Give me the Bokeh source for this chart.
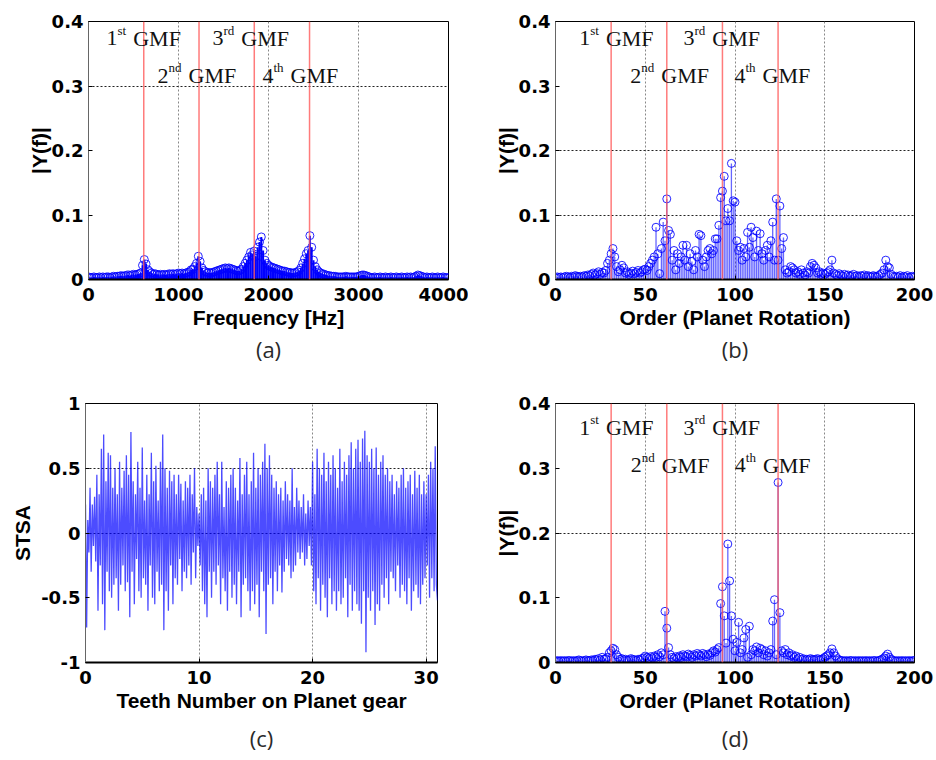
import numpy as np
from bokeh.plotting import figure
from bokeh.layouts import column, row
from bokeh.models import Label, Span, FixedTicker, Title
from bokeh.embed import file_html
from bokeh.resources import INLINE

# ---------------- data ----------------
# (a) amplitude spectrum, 20 Hz bins from 0 to 4000 Hz
freq_hz = np.arange(0, 4001, 20)
spec_a = [
    0.004, 0.003, 0.003, 0.004, 0.003, 0.003, 0.004, 0.003, 0.004, 0.003, 0.004,
    0.004, 0.003, 0.004, 0.005, 0.004, 0.005, 0.005, 0.006, 0.005, 0.006,
    0.006, 0.007, 0.006, 0.007, 0.008, 0.007, 0.008, 0.009, 0.010,
    0.022, 0.031, 0.024, 0.015, 0.012,
    0.010, 0.008, 0.009, 0.008, 0.007, 0.008, 0.007, 0.008, 0.007, 0.008, 0.009,
    0.008, 0.009, 0.008, 0.009, 0.010,
    0.009, 0.010, 0.009, 0.010, 0.011, 0.012, 0.015, 0.016, 0.020, 0.025,
    0.036, 0.028, 0.018, 0.014, 0.012,
    0.010, 0.011, 0.010, 0.011, 0.012, 0.013, 0.014, 0.015, 0.016,
    0.017, 0.018, 0.017, 0.018, 0.017, 0.016, 0.015, 0.014, 0.013, 0.014, 0.016,
    0.020, 0.025, 0.030, 0.035, 0.042, 0.038, 0.044, 0.036,
    0.050, 0.058, 0.066, 0.045, 0.030,
    0.025, 0.022, 0.020, 0.019, 0.018, 0.017, 0.016, 0.015, 0.014, 0.013, 0.013, 0.012,
    0.011, 0.011, 0.010, 0.010, 0.011, 0.012, 0.014, 0.018, 0.025, 0.032,
    0.040, 0.045, 0.068, 0.050, 0.030, 0.020,
    0.015, 0.012, 0.010, 0.009, 0.008, 0.007, 0.006, 0.006, 0.005,
    0.005, 0.005, 0.004, 0.004, 0.004, 0.004, 0.004, 0.005, 0.004, 0.004, 0.004,
    0.004, 0.004, 0.004, 0.005,
    0.006, 0.007, 0.007, 0.006, 0.005,
    0.004, 0.003, 0.003, 0.004, 0.003, 0.003, 0.004, 0.003, 0.003, 0.004, 0.003,
    0.003, 0.004, 0.003, 0.003, 0.004, 0.003, 0.003, 0.004, 0.003, 0.003, 0.004,
    0.003, 0.004, 0.003, 0.004, 0.005,
    0.007, 0.006, 0.005, 0.004,
    0.003, 0.004, 0.003, 0.003, 0.004, 0.003, 0.003, 0.004, 0.003, 0.003, 0.004,
    0.003, 0.003, 0.003,
]

# (b) and (d) order spectra, orders 0..200
orders = np.arange(0, 201)
spec_b = [
    0.003, 0.004, 0.003, 0.004, 0.003, 0.004, 0.005, 0.004, 0.003, 0.005,
    0.004, 0.006, 0.005, 0.004, 0.005, 0.004, 0.006, 0.005, 0.007, 0.006,
    0.008, 0.010, 0.007, 0.009, 0.012, 0.008, 0.011, 0.010, 0.014, 0.025,
    0.030, 0.040, 0.048, 0.035, 0.020, 0.012, 0.015, 0.022, 0.018, 0.010,
    0.012, 0.008, 0.010, 0.013, 0.009, 0.011, 0.014, 0.010, 0.012, 0.015,
    0.016, 0.014, 0.020, 0.025, 0.030, 0.035, 0.081, 0.040, 0.009, 0.048,
    0.089, 0.060, 0.125, 0.076, 0.070, 0.030, 0.045, 0.015, 0.040, 0.025,
    0.035, 0.053, 0.030, 0.053, 0.020, 0.040, 0.028, 0.015, 0.045, 0.035,
    0.070, 0.068, 0.030, 0.020, 0.035, 0.045, 0.048, 0.040, 0.045, 0.063,
    0.063, 0.084, 0.127, 0.137, 0.160, 0.091, 0.110, 0.091, 0.180, 0.122,
    0.120, 0.060, 0.045, 0.050, 0.030, 0.048, 0.035, 0.073, 0.050, 0.081,
    0.065, 0.035, 0.075, 0.045, 0.071, 0.040, 0.030, 0.045, 0.053, 0.035,
    0.060, 0.089, 0.030, 0.125, 0.030, 0.114, 0.048, 0.065, 0.015, 0.010,
    0.012, 0.020, 0.018, 0.015, 0.010, 0.012, 0.008, 0.015, 0.010, 0.007,
    0.012, 0.010, 0.020, 0.025, 0.022, 0.018, 0.010, 0.012, 0.008, 0.010,
    0.008, 0.010, 0.012, 0.015, 0.030, 0.010, 0.008, 0.006, 0.009, 0.007,
    0.005, 0.008, 0.006, 0.007, 0.005, 0.006, 0.008, 0.005, 0.006, 0.004,
    0.006, 0.005, 0.007, 0.004, 0.006, 0.005, 0.004, 0.006, 0.005, 0.004,
    0.006, 0.008, 0.010, 0.015, 0.030, 0.020, 0.018, 0.008, 0.005, 0.004,
    0.005, 0.004, 0.006, 0.003, 0.005, 0.004, 0.006, 0.003, 0.004, 0.005,
    0.004,
]
spec_d = [
    0.002, 0.003, 0.002, 0.003, 0.002, 0.003, 0.002, 0.003, 0.003, 0.002,
    0.003, 0.002, 0.003, 0.004, 0.003, 0.002, 0.003, 0.004, 0.003, 0.003,
    0.004, 0.003, 0.005, 0.004, 0.006, 0.004, 0.008, 0.005, 0.006, 0.008,
    0.015, 0.018, 0.022, 0.020, 0.012, 0.008, 0.005, 0.006, 0.004, 0.005,
    0.003, 0.004, 0.006, 0.005, 0.004, 0.003, 0.005, 0.004, 0.006, 0.007,
    0.010, 0.008, 0.006, 0.009, 0.007, 0.010, 0.008, 0.012, 0.009, 0.015,
    0.012, 0.079, 0.053, 0.023, 0.012, 0.008, 0.006, 0.009, 0.007, 0.010,
    0.008, 0.012, 0.010, 0.009, 0.013, 0.011, 0.008, 0.012, 0.010, 0.014,
    0.012, 0.010, 0.014, 0.012, 0.009, 0.013, 0.011, 0.015, 0.018, 0.016,
    0.020, 0.023, 0.091, 0.117, 0.072, 0.030, 0.183, 0.126, 0.072, 0.036,
    0.018, 0.031, 0.062, 0.015, 0.020, 0.038, 0.051, 0.008, 0.056, 0.012,
    0.020, 0.018, 0.024, 0.015, 0.022, 0.020, 0.012, 0.018, 0.010, 0.015,
    0.020, 0.064, 0.097, 0.012, 0.278, 0.077, 0.018, 0.015, 0.020, 0.012,
    0.015, 0.010, 0.012, 0.008, 0.010, 0.006, 0.008, 0.005, 0.006, 0.004,
    0.005, 0.004, 0.006, 0.005, 0.004, 0.005, 0.006, 0.004, 0.005, 0.006,
    0.008, 0.010, 0.012, 0.015, 0.021, 0.015, 0.010, 0.006, 0.004, 0.003,
    0.003, 0.002, 0.003, 0.002, 0.003, 0.003, 0.002, 0.003, 0.002, 0.003,
    0.002, 0.003, 0.002, 0.003, 0.002, 0.003, 0.002, 0.003, 0.003, 0.002,
    0.003, 0.004, 0.005, 0.007, 0.010, 0.013, 0.008, 0.005, 0.003, 0.003,
    0.002, 0.003, 0.002, 0.003, 0.002, 0.003, 0.002, 0.003, 0.002, 0.003,
    0.003,
]

# (c) synchronous time-synchronous average over one planet revolution
teeth = np.round(np.arange(0, 31.001, 0.1), 2)
stsa = [
    0.22, -0.73, 0.10, -0.15, 0.35, -0.30, 0.22, -0.10, 0.28, -0.22,
    0.45, -0.60, 0.30, -0.25, 0.65, -0.55, 0.76, -0.75, 0.40, -0.30,
    0.62, -0.45, 0.60, -0.50, 0.35, -0.40, 0.50, -0.35, 0.30, -0.60,
    0.55, -0.40, 0.35, -0.25, 0.48, -0.45, 0.60, -0.38, 0.45, -0.65,
    0.78, -0.30, 0.40, -0.55, 0.30, -0.20, 0.55, -0.45, 0.35, -0.50,
    0.66, -0.35, 0.25, -0.40, 0.45, -0.60, 0.30, -0.25, 0.62, -0.50,
    0.40, -0.55, 0.52, -0.30, 0.25, -0.45, 0.55, -0.40, 0.76, -0.75,
    0.50, -0.45, 0.35, -0.60, 0.48, -0.25, 0.40, -0.55, 0.45, -0.35,
    0.30, -0.40, 0.45, -0.20, 0.38, -0.45, 0.25, -0.30, 0.40, -0.35,
    0.35, -0.25, 0.45, -0.40, 0.30, -0.15, 0.50, -0.35, 0.20, -0.10,
    0.15, -0.25, 0.30, -0.45, 0.35, -0.55, 0.25, -0.65, 0.50, -0.30,
    0.40, -0.50, 0.35, -0.30, 0.45, -0.40, 0.55, -0.25, 0.30, -0.55,
    0.55, -0.35, 0.20, -0.45, 0.40, -0.60, 0.35, -0.30, 0.45, -0.50,
    0.50, -0.40, 0.35, -0.55, 0.25, -0.30, 0.58, -0.65, 0.30, -0.40,
    0.45, -0.35, 0.55, -0.45, 0.30, -0.60, 0.40, -0.45, 0.62, -0.55,
    0.35, -0.40, 0.50, -0.65, 0.45, -0.30, 0.55, -0.45, 0.69, -0.78,
    0.50, -0.40, 0.60, -0.35, 0.45, -0.55, 0.35, -0.30, 0.40, -0.45,
    0.30, -0.25, 0.35, -0.46, 0.25, -0.30, 0.40, -0.20, 0.30, -0.25,
    0.25, -0.35, 0.50, -0.30, 0.20, -0.25, 0.35, -0.15, 0.25, -0.20,
    0.20, -0.15, 0.30, -0.25, 0.15, -0.20, 0.25, -0.10, 0.20, -0.25,
    0.55, -0.45, 0.30, -0.55, 0.65, -0.35, 0.50, -0.60, 0.45, -0.40,
    0.62, -0.50, 0.40, -0.65, 0.55, -0.35, 0.45, -0.55, 0.60, -0.45,
    0.50, -0.60, 0.35, -0.45, 0.65, -0.55, 0.40, -0.50, 0.55, -0.35,
    0.45, -0.65, 0.60, -0.40, 0.70, -0.60, 0.50, -0.45, 0.65, -0.55,
    0.72, -0.60, 0.55, -0.70, 0.73, -0.45, 0.79, -0.92, 0.60, -0.50,
    0.55, -0.60, 0.65, -0.45, 0.50, -0.71, 0.66, -0.55, 0.45, -0.60,
    0.55, -0.40, 0.60, -0.50, 0.45, -0.35, 0.50, -0.55, 0.40, -0.30,
    0.45, -0.35, 0.30, -0.45, 0.40, -0.25, 0.35, -0.50, 0.45, -0.40,
    0.50, -0.45, 0.35, -0.55, 0.40, -0.35, 0.45, -0.60, 0.30, -0.45,
    0.48, -0.40, 0.35, -0.50, 0.45, -0.55, 0.30, -0.40, 0.40, -0.35,
    0.30, -0.25, 0.45, -0.50, 0.55, -0.35, 0.50, -0.45, 0.67, -0.40,
    -0.52,
]

# gear-mesh frequencies (Hz) and the matching orders
gmf_hz = [614, 1228, 1842, 2456]
gmf_order = [31, 62, 93, 124]
gmf_names = [("1", "st"), ("2", "nd"), ("3", "rd"), ("4", "th")]

mag_ticks = [0, 0.1, 0.2, 0.3, 0.4]
mag_tick_text = ["0", "0.1", "0.2", "0.3", "0.4"]
stsa_ticks = [-1, -0.5, 0, 0.5, 1]
stsa_tick_text = ["-1", "-0.5", "0", "0.5", "1"]

# ---------------- styling helpers ----------------
TICK_FONT = "DejaVu Sans"
LABEL_FONT = "Liberation Sans"
SERIF = "Liberation Serif"
BLUE = "#0000ff"
RED = "#ff5a5a"
SUP_W = {"st": 8.7, "nd": 13.0, "rd": 10.8, "th": 10.1}


def make_panel(xr, yr, w, h, left, right, top, bottom):
    p = figure(width=w, height=h, x_range=xr, y_range=yr,
               output_backend="svg", toolbar_location=None,
               min_border_left=left, min_border_right=right,
               min_border_top=top, min_border_bottom=bottom)
    p.background_fill_color = "white"
    p.border_fill_color = "white"
    p.outline_line_color = "black"
    p.outline_line_width = 1
    return p


def style_axes(p, xticks, xtext, yticks, ytext, xlabel, ylabel, ylabel_gap=-2):
    p.xaxis.ticker = FixedTicker(ticks=xticks)
    p.yaxis.ticker = FixedTicker(ticks=yticks)
    p.xaxis.major_label_overrides = {t: s for t, s in zip(xticks, xtext)}
    p.yaxis.major_label_overrides = {t: s for t, s in zip(yticks, ytext)}
    p.xaxis.axis_label = xlabel
    p.yaxis.axis_label = ylabel
    for ax in (p.xaxis[0], p.yaxis[0]):
        ax.major_label_text_font = TICK_FONT
        ax.major_label_text_font_style = "bold"
        ax.major_label_text_font_size = "18px"
        ax.major_label_text_color = "black"
        ax.axis_label_text_font = LABEL_FONT
        ax.axis_label_text_font_style = "bold"
        ax.axis_label_text_font_size = "21px"
        ax.axis_label_text_color = "black"
        ax.major_tick_in = 4
        ax.major_tick_out = 0
        ax.major_tick_line_color = "black"
        ax.minor_tick_line_color = None
        ax.axis_line_color = "black"
    p.xaxis.axis_line_width = 2
    p.yaxis.axis_line_color = "#666666"
    p.xaxis.major_label_standoff = 8
    p.yaxis.major_label_standoff = 5
    p.xaxis.axis_label_standoff = 2
    p.yaxis.axis_label_standoff = ylabel_gap


def set_grid(p, xs, ys):
    p.xgrid.ticker = FixedTicker(ticks=xs)
    p.ygrid.ticker = FixedTicker(ticks=ys)
    p.xgrid.grid_line_color = "#888888"
    p.xgrid.grid_line_dash = "2 2"
    p.xgrid.grid_line_width = 1
    p.ygrid.grid_line_color = "#222222"
    p.ygrid.grid_line_dash = "2 2"
    p.ygrid.grid_line_width = 1


def stems(p, x, y, size=8, stem_alpha=0.6, stem_width=1.3):
    p.segment(x0=x, y0=np.zeros(len(y)), x1=x, y1=y,
              line_color=BLUE, line_width=stem_width, line_alpha=stem_alpha)
    p.scatter(x, y, marker="circle", size=size, fill_color=None,
              line_color=BLUE, line_width=1, line_alpha=0.85)


def gmf_lines(p, locs):
    for g in locs:
        p.add_layout(Span(location=g, dimension="height", line_color=RED,
                          line_width=1.5, line_alpha=0.8))


def gmf_text(p, x, y, num, sup):
    common = dict(x=x, y=y, text_font=SERIF, text_color="#111111",
                  text_baseline="alphabetic", text_align="left")
    lift = 7
    p.add_layout(Label(text=num, text_font_size="22px", y_offset=lift, **common))
    p.add_layout(Label(text=sup, text_font_size="13px", x_offset=11,
                       y_offset=lift + 8, **common))
    p.add_layout(Label(text="GMF", text_font_size="22px", y_offset=lift,
                       x_offset=11 + SUP_W[sup] + 7, **common))


def sub_caption(p, text, gap):
    p.add_layout(Title(text=text, align="center", text_font="Open Sans",
                       text_font_size="22px", text_font_style="normal",
                       text_color="#2a2a2a", standoff=gap), "below")


# ---------------- (a) frequency spectrum ----------------
pa = make_panel((0, 4000), (0, 0.4), 468, 375, 88, 20, 21, 96)
style_axes(pa, [0, 1000, 2000, 3000, 4000], ["0", "1000", "2000", "3000", "4000"],
           mag_ticks, mag_tick_text, "Frequency [Hz]", "|Y(f)|")
set_grid(pa, [1000, 2000, 3000], [0.3])
stems(pa, freq_hz, spec_a, size=8, stem_alpha=1.0, stem_width=2)
gmf_lines(pa, gmf_hz)
for (n, s), (gx, gy) in zip(gmf_names, [(200, 0.3628), (767, 0.3054),
                                         (1378, 0.3628), (1933, 0.3054)]):
    gmf_text(pa, gx, gy, n, s)
sub_caption(pa, "(a)", 0)

# ---------------- (b) order spectrum ----------------
pb = make_panel((0, 200), (0, 0.4), 468, 375, 87, 22, 21, 96)
style_axes(pb, [0, 50, 100, 150, 200], ["0", "50", "100", "150", "200"],
           mag_ticks, mag_tick_text, "Order (Planet Rotation)", "|Y(f)|")
set_grid(pb, [50, 100, 150], [0.1, 0.2])
stems(pb, orders, spec_b)
gmf_lines(pb, gmf_order)
for (n, s), (gx, gy) in zip(gmf_names, [(13.2, 0.3628), (41.7, 0.3054),
                                         (71.3, 0.3628), (99.7, 0.3054)]):
    gmf_text(pb, gx, gy, n, s)
sub_caption(pb, "(b)", 0)

# ---------------- (c) STSA waveform ----------------
pc = make_panel((0, 31), (-1, 1), 468, 385, 85, 31, 28, 97)
style_axes(pc, [0, 10, 20, 30], ["0", "10", "20", "30"],
           stsa_ticks, stsa_tick_text, "Teeth Number on Planet gear", "STSA",
           ylabel_gap=4)
set_grid(pc, [10, 20, 30], [0, 0.5])
pc.line(teeth, stsa, line_color=BLUE, line_width=1.3, line_alpha=0.7)
sub_caption(pc, "(c)", 13)

# ---------------- (d) order spectrum of STSA ----------------
pd_ = make_panel((0, 200), (0, 0.4), 468, 385, 87, 22, 27, 98)
style_axes(pd_, [0, 50, 100, 150, 200], ["0", "50", "100", "150", "200"],
           mag_ticks, mag_tick_text, "Order (Planet Rotation)", "|Y(f)|")
set_grid(pd_, [50, 100, 150], [0.2])
stems(pd_, orders, spec_d)
gmf_lines(pd_, gmf_order)
for (n, s), (gx, gy) in zip(gmf_names, [(13.2, 0.3514), (41.9, 0.2938),
                                         (71.3, 0.3514), (99.9, 0.2938)]):
    gmf_text(pd_, gx, gy, n, s)
sub_caption(pd_, "(d)", 13)

layout = column(row(pa, pb), row(pc, pd_))
open("out.html", "w").write(file_html(layout, INLINE))
